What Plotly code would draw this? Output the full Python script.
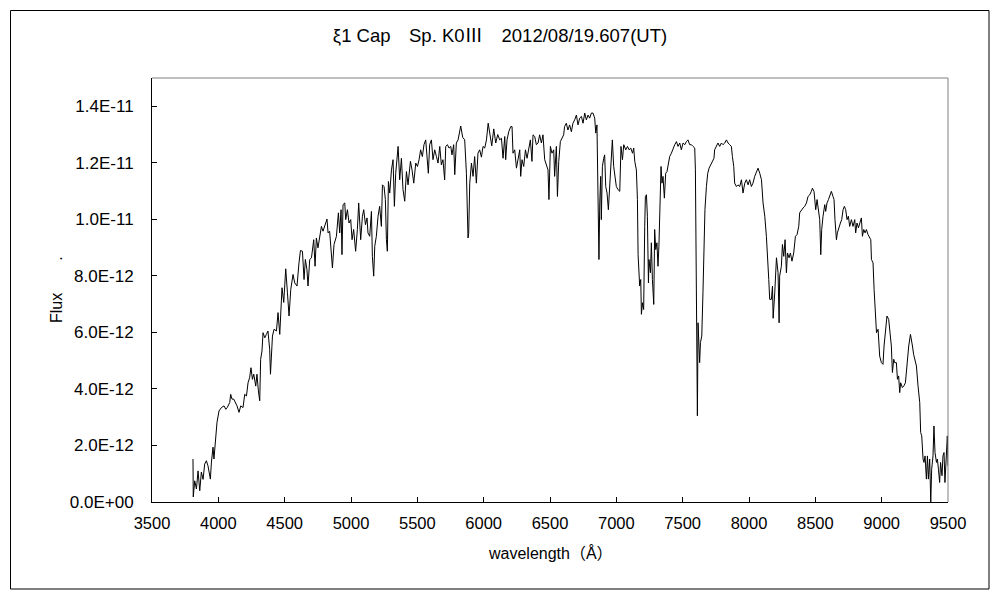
import plotly.graph_objects as go

# wavelength in Angstrom
wavelength = [
    3809, 3811, 3822, 3835, 3847, 3860, 3872, 3885, 3897, 3910, 3922, 3940, 3948, 3960, 3967, 3980, 3990,
    4005, 4023, 4043, 4056, 4068, 4086, 4093, 4103, 4116, 4129, 4141, 4156, 4169, 4186, 4199, 4212, 4224,
    4236, 4246, 4257, 4267, 4282, 4291, 4302, 4312, 4319, 4329, 4337, 4350, 4362, 4374, 4387, 4393, 4408,
    4420, 4438, 4450, 4463, 4475, 4480, 4493, 4508, 4521, 4533, 4546, 4563, 4576, 4593, 4608, 4619, 4634,
    4646, 4656, 4668, 4676, 4689, 4702, 4719, 4729, 4739, 4751, 4764, 4777, 4789, 4802, 4819, 4827, 4839,
    4860, 4872, 4890, 4905, 4915, 4925, 4932, 4940, 4953, 4960, 4973, 4985, 4998, 5008, 5020, 5035, 5048,
    5058, 5073, 5086, 5096, 5109, 5121, 5128, 5141, 5154, 5161, 5171, 5179, 5191, 5204, 5216, 5229, 5237,
    5249, 5259, 5267, 5274, 5282, 5292, 5305, 5317, 5327, 5337, 5355, 5367, 5380, 5392, 5405, 5418, 5430,
    5448, 5460, 5473, 5488, 5501, 5513, 5525, 5538, 5550, 5563, 5573, 5583, 5593, 5606, 5618, 5631, 5644,
    5656, 5669, 5681, 5693, 5706, 5714, 5727, 5739, 5752, 5761, 5774, 5782, 5794, 5807, 5827, 5842, 5857,
    5870, 5882, 5887, 5895, 5908, 5920, 5932, 5945, 5957, 5970, 5983, 5995, 6008, 6021, 6034, 6046, 6061,
    6076, 6091, 6106, 6121, 6134, 6146, 6159, 6166, 6176, 6189, 6204, 6214, 6221, 6234, 6247, 6259, 6272,
    6279, 6289, 6302, 6315, 6327, 6340, 6352, 6364, 6372, 6385, 6397, 6410, 6422, 6435, 6447, 6460, 6473,
    6485, 6492, 6503, 6515, 6528, 6535, 6548, 6556, 6566, 6578, 6590, 6603, 6610, 6623, 6635, 6648, 6661,
    6673, 6686, 6699, 6711, 6724, 6737, 6749, 6762, 6774, 6787, 6799, 6812, 6824, 6837, 6845, 6854, 6862,
    6869, 6875, 6882, 6887, 6895, 6905, 6912, 6920, 6930, 6940, 6950, 6963, 6970, 6980, 6990, 7000, 7013,
    7026, 7035, 7046, 7056, 7071, 7084, 7096, 7109, 7122, 7131, 7139, 7151, 7159, 7164, 7171, 7176, 7184,
    7189, 7197, 7206, 7214, 7219, 7227, 7234, 7242, 7246, 7257, 7264, 7272, 7282, 7289, 7297, 7306, 7314,
    7321, 7329, 7337, 7344, 7352, 7362, 7372, 7382, 7393, 7402, 7415, 7427, 7440, 7453, 7465, 7478, 7490,
    7503, 7516, 7528, 7540, 7553, 7566, 7578, 7591, 7596, 7601, 7604, 7608, 7611, 7616, 7623, 7628, 7634,
    7644, 7653, 7661, 7668, 7679, 7689, 7699, 7711, 7724, 7736, 7741, 7754, 7766, 7779, 7792, 7804, 7817,
    7830, 7842, 7855, 7867, 7875, 7885, 7892, 7905, 7917, 7930, 7943, 7955, 7968, 7980, 7993, 8005, 8018,
    8030, 8043, 8056, 8068, 8081, 8094, 8106, 8119, 8131, 8139, 8149, 8156, 8169, 8177, 8182, 8194, 8207,
    8219, 8227, 8231, 8244, 8252, 8262, 8272, 8282, 8290, 8302, 8312, 8324, 8337, 8350, 8362, 8375, 8382,
    8395, 8407, 8420, 8433, 8445, 8458, 8470, 8478, 8490, 8503, 8513, 8523, 8533, 8541, 8548, 8558, 8571,
    8578, 8588, 8599, 8608, 8621, 8633, 8641, 8648, 8659, 8666, 8678, 8689, 8699, 8709, 8719, 8729, 8739,
    8749, 8759, 8772, 8784, 8797, 8804, 8814, 8825, 8834, 8847, 8855, 8865, 8875, 8885, 8897, 8910, 8918,
    8923, 8935, 8943, 8952, 8961, 8973, 8985, 8998, 9010, 9018, 9031, 9040, 9053, 9061, 9073, 9081, 9091,
    9098, 9111, 9119, 9128, 9136, 9143, 9156, 9168, 9179, 9186, 9194, 9204, 9217, 9224, 9232, 9241, 9251,
    9262, 9274, 9287, 9294, 9302, 9312, 9319, 9327, 9337, 9345, 9352, 9362, 9370, 9377, 9387, 9394, 9402,
    9413, 9420, 9428, 9437, 9444, 9455, 9462, 9470, 9477, 9488, 9495, 9500,
]

# flux in units of 1E-12
flux_e12 = [
    1.52, 0.18, 0.75, 0.46, 1.10, 0.40, 1.06, 0.80, 1.34, 1.46, 1.28, 0.81, 1.41, 1.94, 1.52, 2.12, 2.82,
    3.22, 3.34, 3.40, 3.28, 3.35, 3.52, 3.81, 3.64, 3.64, 3.53, 3.40, 3.17, 3.40, 3.34, 3.81, 3.75, 4.22,
    4.40, 4.75, 4.34, 4.52, 4.10, 4.52, 3.93, 3.58, 5.05, 5.34, 5.99, 5.81, 5.93, 6.05, 5.40, 4.52, 5.87,
    6.11, 6.05, 6.70, 5.93, 7.17, 7.58, 7.06, 8.25, 7.40, 6.58, 7.52, 8.05, 7.75, 7.64, 8.46, 8.90, 8.87,
    7.87, 8.58, 8.22, 7.64, 8.58, 8.64, 9.28, 8.34, 9.34, 8.99, 9.40, 9.75, 9.58, 9.75, 10.01, 9.52, 9.58,
    8.28, 9.11, 9.40, 10.23, 9.52, 10.34, 8.75, 10.52, 10.58, 9.99, 10.34, 9.87, 9.99, 9.28, 9.64, 8.87, 9.64,
    10.58, 9.28, 10.11, 10.34, 9.81, 10.05, 9.52, 9.40, 10.28, 8.69, 7.99, 9.05, 9.40, 10.11, 10.46, 9.75, 11.22,
    11.16, 10.70, 9.28, 8.87, 11.34, 10.93, 11.75, 12.11, 10.46, 11.63, 12.58, 11.40, 12.16, 11.05, 10.64, 11.69, 11.22,
    12.05, 11.75, 11.28, 11.99, 11.87, 12.11, 12.46, 12.22, 12.64, 12.81, 12.22, 11.63, 12.64, 12.81, 12.11, 12.46, 12.22,
    11.99, 12.58, 11.93, 12.11, 11.40, 12.58, 12.64, 12.52, 12.58, 12.28, 12.64, 11.58, 12.70, 12.81, 13.30, 12.90, 12.81,
    11.63, 9.34, 9.50, 11.28, 11.99, 11.52, 12.22, 11.28, 12.34, 12.46, 12.20, 12.58, 12.52, 12.81, 13.40, 13.00, 12.60,
    13.20, 12.70, 13.00, 12.81, 12.87, 12.16, 12.93, 12.11, 12.81, 13.10, 13.28, 13.28, 12.34, 12.46, 11.81, 12.16, 12.46,
    11.52, 12.11, 11.87, 12.46, 12.16, 12.52, 12.81, 12.05, 12.99, 12.93, 12.64, 12.70, 12.99, 12.70, 12.99, 12.11, 11.87,
    11.75, 10.70, 12.58, 12.34, 12.46, 11.52, 12.58, 10.81, 12.05, 12.75, 12.87, 12.99, 13.28, 13.40, 13.16, 13.34, 13.10,
    13.40, 13.52, 13.69, 13.34, 13.58, 13.64, 13.40, 13.76, 13.52, 13.69, 13.58, 13.76, 13.76, 13.58, 13.05, 13.34, 11.40,
    8.58, 10.58, 11.52, 9.99, 11.87, 12.16, 12.28, 11.16, 10.93, 10.34, 11.10, 11.87, 12.81, 11.87, 11.40, 11.16, 11.05,
    10.99, 12.58, 12.11, 12.64, 12.46, 12.58, 12.46, 12.52, 12.34, 12.52, 12.05, 11.75, 10.70, 8.75, 7.87, 7.64, 7.87,
    6.64, 7.05, 6.81, 9.75, 10.81, 10.87, 10.11, 7.75, 8.58, 8.11, 9.17, 7.87, 6.99, 9.64, 8.93, 9.17, 8.34,
    9.05, 10.52, 11.87, 11.28, 11.52, 10.75, 11.63, 11.69, 11.99, 12.22, 12.34, 12.52, 12.64, 12.75, 12.58, 12.70, 12.46,
    12.70, 12.64, 12.75, 12.81, 12.64, 12.64, 12.58, 12.52, 11.75, 8.34, 6.22, 4.58, 3.05, 6.34, 5.75, 4.93, 5.64,
    5.87, 7.40, 8.69, 10.34, 11.16, 11.63, 11.81, 11.93, 12.05, 12.16, 12.46, 12.58, 12.70, 12.58, 12.70, 12.64, 12.70,
    12.81, 12.70, 12.64, 12.58, 12.22, 11.87, 11.28, 11.16, 11.22, 11.16, 11.40, 10.93, 11.28, 11.40, 11.22, 11.40, 11.16,
    11.28, 11.52, 11.69, 11.81, 11.63, 11.40, 10.58, 10.11, 9.40, 8.46, 7.87, 7.17, 7.17, 7.64, 6.50, 7.40, 8.64,
    8.11, 6.34, 7.99, 8.34, 9.11, 8.69, 9.28, 8.11, 8.81, 8.64, 8.81, 8.52, 8.81, 9.40, 9.46, 9.75, 10.23,
    10.34, 10.40, 10.46, 10.58, 10.81, 10.87, 10.99, 11.10, 10.99, 10.34, 10.70, 10.34, 9.99, 8.75, 9.64, 10.11, 10.52,
    10.28, 10.58, 10.70, 10.81, 10.99, 10.81, 10.70, 9.99, 9.28, 9.52, 9.75, 9.87, 9.99, 10.34, 10.46, 10.34, 9.99,
    10.11, 9.75, 9.99, 9.75, 9.99, 9.52, 9.87, 9.70, 9.87, 10.05, 9.40, 9.64, 9.52, 9.64, 9.46, 9.34, 9.28,
    8.58, 8.46, 7.52, 6.90, 5.99, 6.11, 5.16, 4.93, 4.87, 5.52, 6.22, 6.58, 6.46, 5.99, 5.52, 4.58, 5.05,
    4.93, 4.93, 4.34, 4.46, 3.87, 4.22, 4.05, 4.11, 4.22, 4.69, 5.16, 5.52, 5.93, 5.64, 5.52, 5.22, 5.05,
    4.81, 4.11, 3.52, 2.46, 2.34, 1.52, 1.40, 1.63, 0.81, 1.63, 0.81, 1.52, 0.00, 1.16, 1.63, 2.69, 1.75,
    1.40, 1.52, 1.16, 0.69, 1.40, 0.93, 1.63, 1.75, 0.69, 1.52, 2.34, 1.28,
]

x_tickvals = [3500, 4000, 4500, 5000, 5500, 6000, 6500, 7000, 7500, 8000, 8500, 9000, 9500]
y_tickvals = [0, 2e-12, 4e-12, 6e-12, 8e-12, 1e-11, 1.2e-11, 1.4e-11]
y_ticktext = ["0.0E+00", "2.0E-12", "4.0E-12", "6.0E-12", "8.0E-12", "1.0E-11", "1.2E-11", "1.4E-11"]

title_text = "ξ1 Cap　Sp. K0Ⅲ　2012/08/19.607(UT)"
x_title = "wavelength（Å）"
y_title = "Flux　　."

FONT = "Liberation Sans, Noto Sans CJK JP, sans-serif"

flux = [v * 1e-12 for v in flux_e12]

fig = go.Figure()
fig.add_trace(go.Scatter(x=wavelength, y=flux, mode="lines",
                         line=dict(color="black", width=1), showlegend=False,
                         hoverinfo="skip"))

fig.update_layout(
    width=1000, height=600,
    margin=dict(l=152, r=52, t=78, b=98),
    paper_bgcolor="white", plot_bgcolor="white",
    font=dict(family=FONT, size=17, color="black"),
    title=dict(text=title_text, x=0.5, xref="container", xanchor="center",
               y=1 - 36 / 600, yref="container", yanchor="middle",
               font=dict(family=FONT, size=18.5, color="black")),
    xaxis=dict(range=[3500, 9500], tickvals=x_tickvals, ticks="inside", ticklen=5,
               tickcolor="black", showline=True, linecolor="black", linewidth=1,
               showgrid=False, zeroline=False, ticklabelstandoff=6,
               tickfont=dict(family=FONT, size=16.5, color="black")),
    yaxis=dict(range=[0, 1.5e-11], tickvals=y_tickvals, ticktext=y_ticktext,
               ticks="inside", ticklen=5, tickcolor="black", showline=True,
               linecolor="black", linewidth=1, showgrid=False, zeroline=False,
               ticklabelstandoff=14,
               tickfont=dict(family=FONT, size=17, color="black")),
    annotations=[
        dict(text=x_title, xref="paper", yref="paper", x=0.5, y=(502 - 553) / 424,
             xanchor="center", yanchor="middle", showarrow=False,
             font=dict(family=FONT, size=16, color="black")),
        dict(text=y_title, xref="paper", yref="paper", x=(56 - 152) / 796, y=0.5,
             xanchor="center", yanchor="middle", showarrow=False, textangle=-90,
             font=dict(family=FONT, size=16, color="black")),
    ],
    shapes=[
        # grey top and right frame of the plot area
        dict(type="line", xref="paper", yref="paper", x0=0, x1=1, y0=1, y1=1,
             line=dict(color="#808080", width=1)),
        dict(type="line", xref="paper", yref="paper", x0=1, x1=1, y0=0, y1=1,
             line=dict(color="#808080", width=1)),
        # outer chart border
        dict(type="rect", xref="paper", yref="paper",
             x0=(10.5 - 152) / 796, x1=(989 - 152) / 796,
             y0=(502 - 589) / 424, y1=(502 - 10.5) / 424,
             line=dict(color="black", width=1), fillcolor="rgba(0,0,0,0)"),
    ],
)

fig.write_html("out.html", config={"displayModeBar": False},
               post_script="document.body.style.margin='0';document.body.style.padding='0';")
